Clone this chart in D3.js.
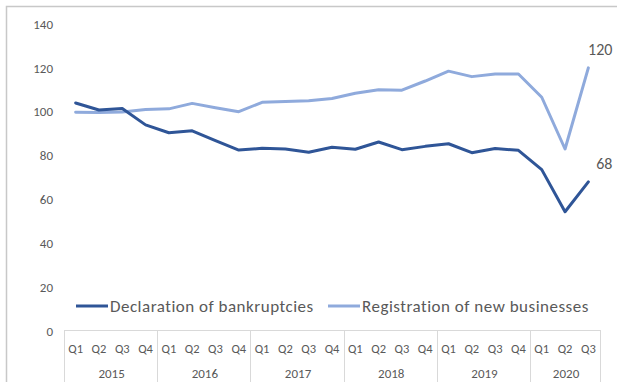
<!DOCTYPE html>
<html>
<head>
<meta charset="utf-8">
<script src="https://cdn.jsdelivr.net/npm/d3@7"></script>
<style>
  html, body { margin: 0; padding: 0; background: #fff; }
  svg { display: block; }
  text { font-family: Carlito, Calibri, Lato, "Open Sans", sans-serif; fill: #595959; }
</style>
</head>
<body>
<svg id="chart" width="623" height="382"></svg>
<script>
const years = ["2015", "2016", "2017", "2018", "2019", "2020"];
const quarterLabels = ["Q1", "Q2", "Q3", "Q4"];
const periods = [
  "2015 Q1","2015 Q2","2015 Q3","2015 Q4",
  "2016 Q1","2016 Q2","2016 Q3","2016 Q4",
  "2017 Q1","2017 Q2","2017 Q3","2017 Q4",
  "2018 Q1","2018 Q2","2018 Q3","2018 Q4",
  "2019 Q1","2019 Q2","2019 Q3","2019 Q4",
  "2020 Q1","2020 Q2","2020 Q3"
];
const bankruptcies = [104, 100.8, 101.5, 94, 90.4, 91.3, 86.8, 82.5,
                      83.3, 83, 81.5, 83.8, 82.9, 86.2, 82.7, 84.2,
                      85.4, 81.3, 83.2, 82.4, 73.6, 54.4, 68];
const registrations = [99.8, 99.6, 99.9, 101, 101.3, 103.8, 101.8, 100,
                       104.3, 104.7, 105, 106, 108.4, 110, 109.8, 114,
                       118.5, 116, 117.2, 117.2, 106.6, 83, 120];
const yTicks = [0, 20, 40, 60, 80, 100, 120, 140];
const seriesNames = ["Declaration of bankruptcies", "Registration of new businesses"];
const seriesColors = ["#2f5597", "#8faadc"];

const svg = d3.select("#chart");

// outer chart frame (left + top edges visible)
svg.append("path")
  .attr("d", "M6.5,382 L6.5,6.5 L617,6.5")
  .attr("fill", "none").attr("stroke", "#c8c8c8").attr("stroke-width", 1.5);

const x = d3.scaleBand().domain(periods).range([64, 600]);
const y = d3.scaleLinear().domain([0, 140]).range([331, 24]);

// y axis labels
const yAxis = d3.axisLeft(y).tickValues(yTicks).tickSize(0).tickPadding(0);
const yg = svg.append("g").attr("transform", "translate(53,0)").call(yAxis);
yg.select(".domain").remove();
yg.selectAll("text").attr("font-size", 13).style("fill", "#595959")
  .style("font-family", "Carlito, Calibri, Lato, sans-serif");

// x axis: baseline, quarter labels, year separators
svg.append("line").attr("x1", 64).attr("x2", 600).attr("y1", 330.5).attr("y2", 330.5)
  .attr("stroke", "#d9d9d9").attr("stroke-width", 1);

const xAxis = d3.axisBottom(x).tickSize(0).tickPadding(0)
  .tickFormat(d => d.split(" ")[1]);
const xg = svg.append("g").attr("transform", "translate(0,344)").call(xAxis);
xg.select(".domain").remove();
xg.selectAll("text").attr("font-size", 12.5).attr("dy", "0.35em").attr("y", 5)
  .style("fill", "#595959").style("font-family", "Carlito, Calibri, Lato, sans-serif");

// year groups
const yearGroups = years.map(yr => {
  const ps = periods.filter(p => p.startsWith(yr));
  return { year: yr, start: x(ps[0]), end: x(ps[ps.length - 1]) + x.bandwidth() };
});
const sepXs = [yearGroups[0].start].concat(yearGroups.map(g => g.end));
svg.selectAll("line.sep").data(sepXs).enter().append("line")
  .attr("class", "sep")
  .attr("x1", d => Math.round(d) + 0.5).attr("x2", d => Math.round(d) + 0.5)
  .attr("y1", 330).attr("y2", 382)
  .attr("stroke", "#d9d9d9").attr("stroke-width", 1);
svg.selectAll("text.year").data(yearGroups).enter().append("text")
  .attr("class", "year")
  .attr("x", d => (d.start + d.end) / 2 + 1).attr("y", 373).attr("dy", "0.35em")
  .attr("text-anchor", "middle").attr("font-size", 13)
  .text(d => d.year);

// lines
const seriesData = [bankruptcies, registrations];
const line = d3.line()
  .x((d, i) => x(periods[i]) + x.bandwidth() / 2)
  .y(d => y(d));
seriesData.slice().reverse().forEach((vals, ri) => {
  const idx = seriesData.length - 1 - ri;
  svg.append("path").datum(vals)
    .attr("fill", "none").attr("stroke", seriesColors[idx])
    .attr("stroke-width", 3).attr("stroke-linejoin", "round").attr("stroke-linecap", "round")
    .attr("d", line);
});

// end labels
seriesData.forEach((vals, idx) => {
  const last = vals.length - 1;
  svg.append("text")
    .attr("x", x(periods[last]) + x.bandwidth() / 2 + 24)
    .attr("y", y(vals[last]) - 13)
    .attr("text-anchor", "end").attr("font-size", 16)
    .text(d3.format("d")(Math.round(vals[last])));
});

// legend
const legendItems = [
  { name: seriesNames[0], color: seriesColors[0], x0: 76 },
  { name: seriesNames[1], color: seriesColors[1], x0: 328 }
];
legendItems.forEach(it => {
  svg.append("line").attr("x1", it.x0).attr("x2", it.x0 + 32)
    .attr("y1", 306).attr("y2", 306)
    .attr("stroke", it.color).attr("stroke-width", 3);
  svg.append("text").attr("x", it.x0 + 34).attr("y", 306).attr("dy", "0.35em")
    .attr("font-size", 17).attr("letter-spacing", 0.5).text(it.name);
});
</script>
</body>
</html>
